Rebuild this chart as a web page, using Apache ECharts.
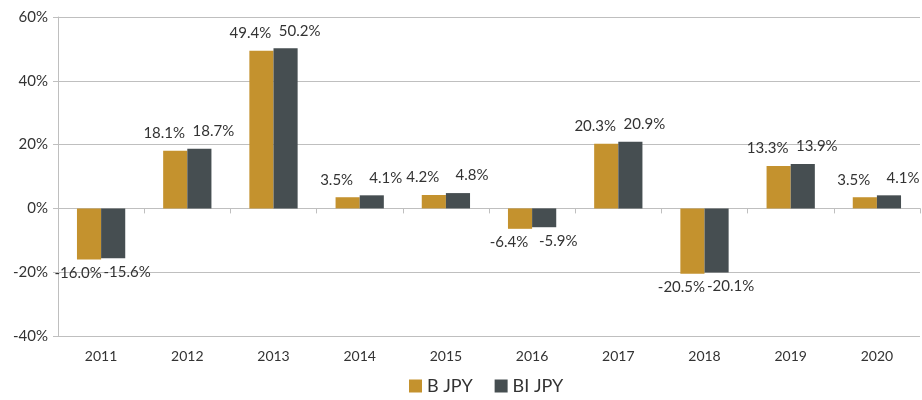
<!DOCTYPE html>
<html>
<head>
<meta charset="utf-8">
<script src="https://cdn.jsdelivr.net/npm/echarts@6/dist/echarts.min.js"></script>
<style>
  html, body { margin: 0; padding: 0; background: #fff; }
  #chart { width: 922px; height: 400px; }
</style>
</head>
<body>
<div id="chart"></div>
<script>
const years = ['2011', '2012', '2013', '2014', '2015', '2016', '2017', '2018', '2019', '2020']
const bJpy = [-16.0, 18.1, 49.4, 3.5, 4.2, -6.4, 20.3, -20.5, 13.3, 3.5]
const biJpy = [-15.6, 18.7, 50.2, 4.1, 4.8, -5.9, 20.9, -20.1, 13.9, 4.1]

const font = 'Lato, "Open Sans", sans-serif'
const gridColor = '#bfbfbf'

// labels sit above positive bars and below negative ones, nudged sideways
function withLabels (values, dx) {
  return values.map(v => ({
    value: v,
    label: {
      position: v < 0 ? 'bottom' : 'top',
      offset: [dx, v < 0 ? 2 : -6]
    }
  }))
}

const barLabel = {
  show: true,
  color: '#333',
  fontSize: 15,
  distance: 4,
  formatter: p => p.value.toFixed(1) + '%'
}

const chart = echarts.init(document.getElementById('chart'))
chart.setOption({
  animation: false,
  textStyle: { fontFamily: font },
  grid: { left: 58, right: 2, top: 17, bottom: 64 },
  legend: {
    bottom: 0,
    left: 404,
    itemWidth: 13,
    itemHeight: 13,
    itemGap: 22,
    icon: 'rect',
    textStyle: { fontSize: 18, color: '#333', fontFamily: font },
    data: ['B JPY', 'BI JPY']
  },
  xAxis: [{
    type: 'category',
    data: years,
    axisLine: { show: false, onZero: false },
    axisTick: { show: false },
    axisLabel: { color: '#333', fontSize: 14, margin: 13 }
  }, {
    type: 'category',
    data: years,
    position: 'bottom',
    axisLine: { show: true, onZero: true, lineStyle: { color: gridColor } },
    axisTick: { show: true, length: 5, lineStyle: { color: gridColor } },
    axisLabel: { show: false }
  }],
  yAxis: {
    type: 'value',
    min: -40,
    max: 60,
    interval: 20,
    axisLine: { show: true, lineStyle: { color: gridColor } },
    axisTick: { show: true, length: 5, lineStyle: { color: gridColor } },
    axisLabel: { formatter: '{value}%', color: '#333', fontSize: 15, margin: 10 },
    splitLine: { lineStyle: { color: gridColor } }
  },
  series: [{
    name: 'B JPY',
    type: 'bar',
    barGap: '0%',
    barCategoryGap: '44%',
    itemStyle: { color: '#c4922e' },
    label: barLabel,
    data: withLabels(bJpy, -11)
  }, {
    name: 'BI JPY',
    type: 'bar',
    itemStyle: { color: '#464e51' },
    label: barLabel,
    data: withLabels(biJpy, 14)
  }]
})
</script>
</body>
</html>
